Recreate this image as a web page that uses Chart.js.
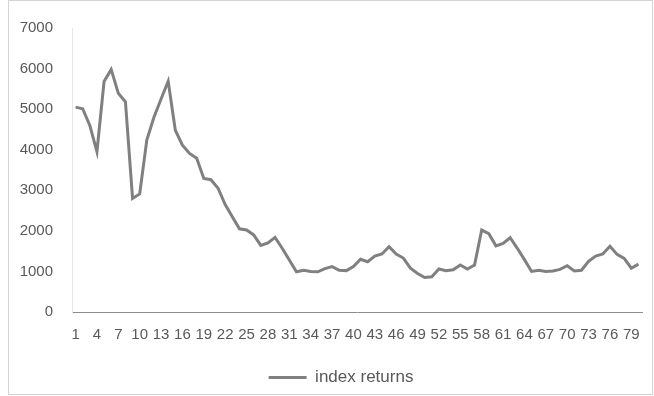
<!DOCTYPE html>
<html>
<head>
<meta charset="utf-8">
<script src="https://cdn.jsdelivr.net/npm/chart.js@4/dist/chart.umd.min.js"></script>
<style>
  html, body { margin: 0; padding: 0; background: #ffffff; }
  #wrap { width: 654px; height: 396px; }
</style>
</head>
<body>
<div id="wrap"><canvas id="chart" width="654" height="396"></canvas></div>
<script>
// Periods 1..80
const periods = Array.from({ length: 80 }, (_, i) => String(i + 1));

// Index returns per period
const indexReturns = [
  5050, 5010, 4600, 3950, 5680, 5980, 5390, 5180, 2800, 2910,
  4240, 4800, 5250, 5690, 4480, 4110, 3910, 3790, 3290, 3260,
  3050, 2650, 2350, 2050, 2020, 1900, 1640, 1700, 1840, 1570,
  1280,  990, 1030, 1000,  990, 1070, 1120, 1030, 1020, 1120,
  1300, 1240, 1380, 1430, 1610, 1430, 1330, 1080,  950,  850,
   870, 1060, 1020, 1040, 1160, 1060, 1160, 2020, 1930, 1630,
  1690, 1830, 1570, 1290, 1000, 1030, 1000, 1010, 1050, 1140,
  1010, 1030, 1250, 1380, 1430, 1620, 1420, 1320, 1080, 1180
];

const seriesName = 'index returns';
const yTicks = [0, 1000, 2000, 3000, 4000, 5000, 6000, 7000];

const textColor = '#595959';
const lineColor = '#808080';
const fontFamily = "'Liberation Sans', Arial, sans-serif";
const tickFont = { family: fontFamily, size: 15 };
const legendFont = { family: fontFamily, size: 17 };

// White background and light frame around the whole chart
const framePlugin = {
  id: 'frame',
  beforeDraw(chart) {
    const ctx = chart.ctx;
    ctx.save();
    ctx.fillStyle = '#ffffff';
    ctx.fillRect(0, 0, chart.width, chart.height);
    ctx.strokeStyle = '#d4d4d4';
    ctx.lineWidth = 1;
    ctx.strokeRect(8.5, 0.5, 644, 394);
    ctx.restore();
  }
};

// Center the legend under the framed area rather than the full canvas
const legendBoxPlugin = {
  id: 'legendBox',
  afterLayout(chart) {
    if (chart.legend) {
      chart.legend.left = 40;
      chart.legend.right = 642;
      chart.legend.width = 602;
    }
  }
};

new Chart(document.getElementById('chart'), {
  type: 'line',
  data: {
    labels: periods,
    datasets: [{
      label: seriesName,
      data: indexReturns,
      borderColor: lineColor,
      backgroundColor: lineColor,
      borderWidth: 3,
      pointRadius: 0,
      tension: 0,
      fill: false
    }]
  },
  options: {
    responsive: false,
    animation: false,
    devicePixelRatio: 1,
    layout: { padding: { top: 28, right: 12, bottom: 0, left: 0 } },
    plugins: {
      tooltip: { enabled: false },
      legend: {
        position: 'bottom',
        labels: {
          color: textColor,
          font: legendFont,
          usePointStyle: true,
          pointStyle: 'line',
          pointStyleWidth: 38,
          padding: 9
        }
      }
    },
    scales: {
      x: {
        offset: true,
        grid: { display: false, drawTicks: false },
        border: { display: true, color: '#8c8c8c', width: 1 },
        ticks: {
          color: textColor,
          font: tickFont,
          autoSkip: false,
          maxRotation: 0,
          minRotation: 0,
          padding: 14,
          callback(value, index) {
            return index % 3 === 0 ? periods[index] : '';
          }
        },
        afterFit(scale) { scale.height = 48; }
      },
      y: {
        min: 0,
        max: 7000,
        afterBuildTicks(scale) {
          scale.ticks = yTicks.map(v => ({ value: v }));
        },
        grid: { display: false, drawTicks: false },
        border: { display: true, color: '#e6e6e6', width: 1 },
        ticks: {
          color: textColor,
          font: tickFont,
          padding: 19,
          callback(value) { return String(value); }
        },
        afterFit(scale) { scale.width = 72; }
      }
    }
  },
  plugins: [framePlugin, legendBoxPlugin]
});
</script>
</body>
</html>
